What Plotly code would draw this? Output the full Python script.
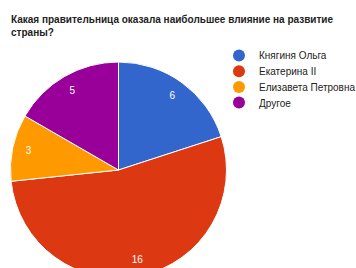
import plotly.graph_objects as go

labels = ["Княгиня Ольга", "Екатерина II", "Елизавета Петровна", "Другое"]
values = [6, 16, 3, 5]
colors = ["#3366cc", "#dc3912", "#ff9900", "#990099"]
title_text = "<b>Какая правительница оказала наибольшее влияние на развитие<br>страны?</b>"

W, H = 356, 280
dom = dict(x=[10.5 / W, 226.5 / W], y=[1 - 278 / H, 1 - 62 / H])

fig = go.Figure()
fig.add_trace(go.Pie(
    labels=labels, values=values, sort=False, direction="clockwise", rotation=0,
    marker=dict(colors=colors, line=dict(color="white", width=1)),
    textinfo="none", showlegend=False, hoverinfo="label+value+percent",
    domain=dom,
))
# transparent ring carrying the value labels near the rim
fig.add_trace(go.Pie(
    labels=labels, values=values, sort=False, direction="clockwise", rotation=0,
    hole=0.7,
    marker=dict(colors=["rgba(0,0,0,0)"] * len(values), line=dict(width=0)),
    textinfo="value", textposition="inside", insidetextorientation="horizontal",
    textfont=dict(color="white", size=10, family="Arial"),
    showlegend=False, hoverinfo="skip",
    domain=dom,
))

legend_layout = {}
legend_y0, legend_step = 55.5, 15.7
for i, (lab, col) in enumerate(zip(labels, colors)):
    key = "legend" if i == 0 else f"legend{i + 1}"
    fig.add_trace(go.Scatter(
        x=[None], y=[None], mode="markers", name=lab,
        marker=dict(symbol="circle", size=9, color=col),
        showlegend=True, hoverinfo="skip", legend=key,
    ))
    legend_layout[key] = dict(
        x=219 / W, y=1 - (legend_y0 + i * legend_step) / H,
        xanchor="left", yanchor="middle",
        font=dict(family="Arial", size=10, color="#222222"),
        itemsizing="constant", bgcolor="rgba(0,0,0,0)",
    )

fig.update_layout(
    width=W, height=H, margin=dict(l=0, r=0, t=0, b=0, autoexpand=False),
    paper_bgcolor="white", plot_bgcolor="white",
    xaxis=dict(visible=False), yaxis=dict(visible=False),
    annotations=[dict(
        text=title_text, xref="paper", yref="paper", x=9 / W, y=1 - 12 / H,
        xanchor="left", yanchor="top", align="left", showarrow=False,
        font=dict(family="Arial", size=10, color="#222222"),
    )],
    font=dict(family="Arial"),
    **legend_layout,
)
fig.write_html("out.html", config={"displayModeBar": False},
               post_script="document.body.style.margin='0';document.body.style.overflow='hidden';")
